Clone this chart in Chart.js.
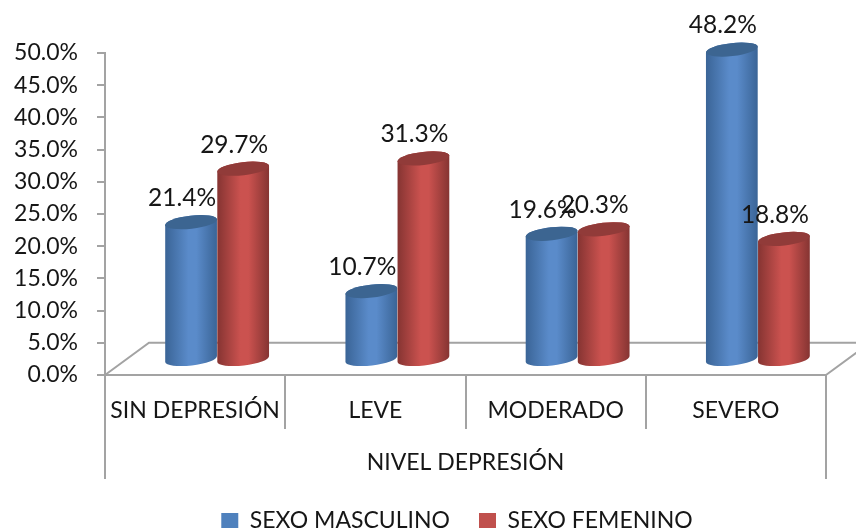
<!DOCTYPE html>
<html>
<head>
<meta charset="utf-8">
<style>
  html, body { margin: 0; padding: 0; background: #fff; }
  canvas { display: block; }
</style>
<script src="https://cdn.jsdelivr.net/npm/chart.js@4/dist/chart.umd.min.js"></script>
</head>
<body>
<canvas id="depChart" width="856" height="532"></canvas>
<script>
const categories = ['SIN DEPRESIÓN', 'LEVE', 'MODERADO', 'SEVERO'];
const masculino = [21.4, 10.7, 19.6, 48.2];
const femenino = [29.7, 31.3, 20.3, 18.8];
const axisTitle = 'NIVEL DEPRESIÓN';

const FONT = 'Lato, Carlito, sans-serif';
const AXIS_GREY = '#a3a3a3';
const TEXT = '#161616';

// depth of the fake 3D box
const DEPTH_X = 44;
const BAR_DX = 22;
const BAR_DY = -15;

function drawCylinder(ctx, bar, edge, mid, cap) {
  const cx = bar.x + BAR_DX;
  const rx = bar.width / 2;
  const ry = 6.5;
  const rot = -0.115;
  const topY = bar.y + BAR_DY;
  const baseY = bar.base + BAR_DY;

  const grad = ctx.createLinearGradient(cx - rx, 0, cx + rx, 0);
  grad.addColorStop(0, edge);
  grad.addColorStop(0.45, mid);
  grad.addColorStop(0.6, mid);
  grad.addColorStop(1, edge);

  ctx.beginPath();
  ctx.ellipse(cx, baseY, rx, ry, rot, Math.PI, 0, true);
  ctx.ellipse(cx, topY, rx, ry, rot, 0, Math.PI, true);
  ctx.closePath();
  ctx.fillStyle = grad;
  ctx.fill();

  ctx.beginPath();
  ctx.ellipse(cx, topY, rx, ry, rot, 0, Math.PI * 2);
  ctx.fillStyle = cap;
  ctx.fill();
}

const cylinders = {
  id: 'cylinders',
  afterLayout(chart) {
    // legend sits lower and to the right of where chart.js puts it
    chart.legend.left += 44;
    chart.legend.right += 44;
    chart.legend.top += 10;
    chart.legend.bottom += 10;
  },
  beforeDatasetsDraw(chart) {
    const ctx = chart.ctx;
    const { x, y } = chart.scales;
    const backY = y.getPixelForValue(5);

    // floor of the box
    ctx.save();
    ctx.strokeStyle = AXIS_GREY;
    ctx.lineWidth = 2;
    ctx.beginPath();
    ctx.moveTo(x.left, y.bottom);
    ctx.lineTo(x.left + DEPTH_X, backY);
    ctx.lineTo(chart.width, backY);
    ctx.moveTo(x.right, y.bottom);
    ctx.lineTo(x.right + DEPTH_X, backY);
    // outer ends of the two level category axis
    ctx.moveTo(x.left, y.bottom);
    ctx.lineTo(x.left, y.bottom + 104);
    ctx.moveTo(x.right, y.bottom);
    ctx.lineTo(x.right, y.bottom + 104);
    ctx.stroke();

    const blue = chart.getDatasetMeta(0).data;
    const red = chart.getDatasetMeta(1).data;
    blue.forEach((bar, i) => {
      drawCylinder(ctx, bar, '#3a6496', '#5a8bca', '#3c6591');
      drawCylinder(ctx, red[i], '#853432', '#cb524f', '#913b39');
    });

    // value labels
    ctx.fillStyle = TEXT;
    ctx.font = '24.5px ' + FONT;
    ctx.textAlign = 'center';
    ctx.textBaseline = 'middle';
    [blue, red].forEach((bars, d) => {
      bars.forEach((bar, i) => {
        const v = chart.data.datasets[d].data[i];
        ctx.fillText(v.toFixed(1) + '%', bar.x + BAR_DX - 9, bar.y + BAR_DY - 24);
      });
    });
    ctx.restore();
    return false;
  }
};

new Chart(document.getElementById('depChart'), {
  type: 'bar',
  data: {
    labels: categories,
    datasets: [
      { label: 'SEXO MASCULINO', data: masculino, backgroundColor: '#4f81bd' },
      { label: 'SEXO FEMENINO', data: femenino, backgroundColor: '#c0504d' }
    ]
  },
  plugins: [cylinders],
  options: {
    responsive: false,
    animation: false,
    devicePixelRatio: 1,
    layout: { padding: { top: 53, right: 30, left: 0, bottom: 0 } },
    plugins: {
      legend: {
        position: 'bottom',
        labels: {
          font: { family: FONT, size: 23 },
          color: TEXT,
          boxWidth: 17,
          boxHeight: 15,
          padding: 29
        }
      },
      tooltip: { enabled: false }
    },
    datasets: { bar: { categoryPercentage: 0.578, barPercentage: 1 } },
    scales: {
      x: {
        afterFit(scale) { scale.height = 95; },
        grid: {
          drawOnChartArea: false,
          tickLength: 54,
          color: AXIS_GREY,
          lineWidth: 2
        },
        border: { color: AXIS_GREY, width: 2 },
        ticks: { font: { family: FONT, size: 23 }, color: TEXT, padding: -32, maxRotation: 0 },
        title: {
          display: true,
          text: axisTitle,
          font: { family: FONT, size: 23 },
          color: TEXT,
          padding: { top: 0, bottom: -6 }
        }
      },
      y: {
        min: 0,
        max: 50,
        afterFit(scale) { scale.width = 105; },
        grid: {
          drawOnChartArea: false,
          tickLength: 8,
          color: AXIS_GREY,
          lineWidth: 2
        },
        border: { color: AXIS_GREY, width: 2 },
        ticks: {
          stepSize: 5,
          font: { family: FONT, size: 23 },
          color: TEXT,
          padding: 19,
          callback: v => v.toFixed(1) + '%'
        }
      }
    }
  }
});
</script>
</body>
</html>
